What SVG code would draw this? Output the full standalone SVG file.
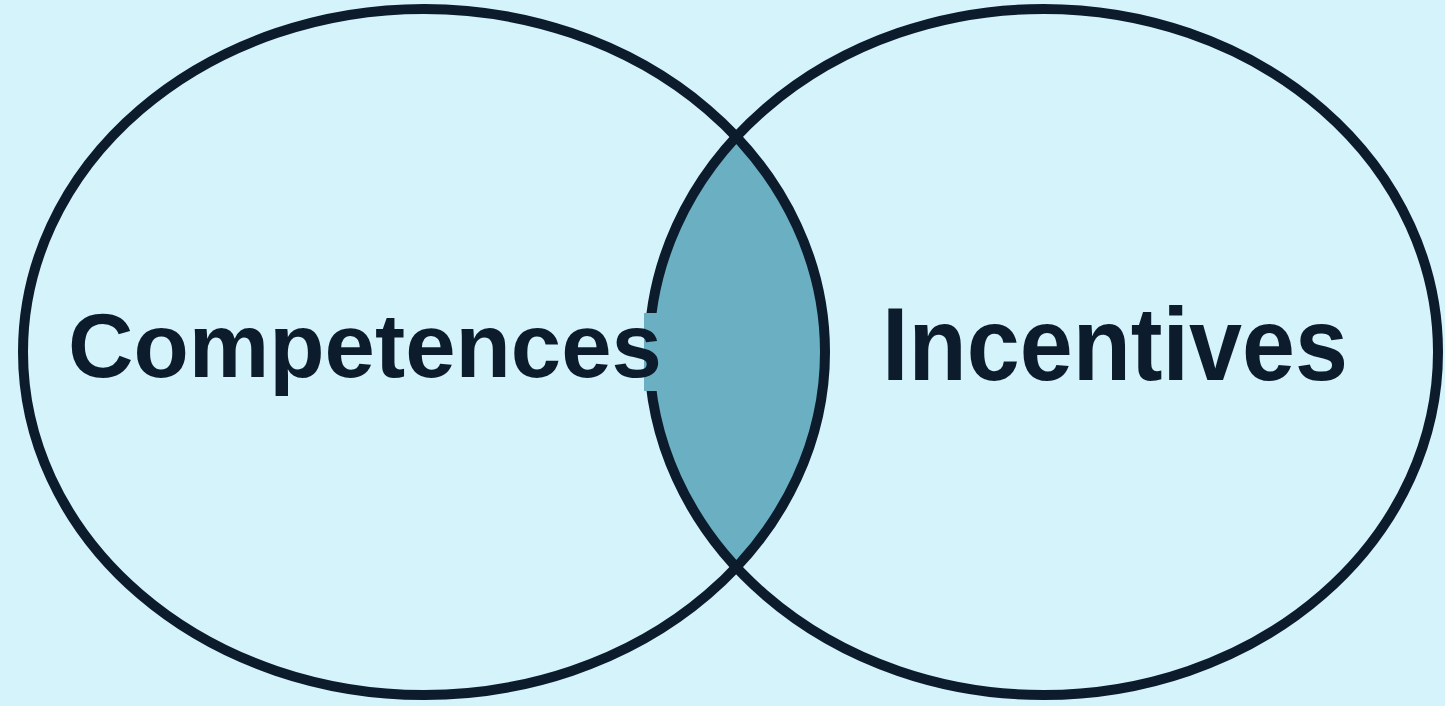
<svg xmlns="http://www.w3.org/2000/svg" width="1445" height="706" viewBox="0 0 1445 706">
  <style>
    .ring { fill: none; stroke: #0c1c2c; stroke-width: 10; }
    .label { font-family: "Liberation Sans", Arial, sans-serif; font-weight: bold; fill: #0c1c2c; }
  </style>
  <defs>
    <clipPath id="clipLeft">
      <ellipse cx="424" cy="352" rx="401" ry="343"/>
    </clipPath>
  </defs>
  <rect x="0" y="0" width="1445" height="706" fill="#d4f3fa"/>
  <g id="overlap">
    <ellipse cx="1043.5" cy="352" rx="394.5" ry="343" fill="#6aafc2" clip-path="url(#clipLeft)"/>
  </g>
  <g id="competences">
    <ellipse class="ring" cx="424" cy="352" rx="401" ry="343"/>
  </g>
  <g id="incentives">
    <ellipse class="ring" cx="1043.5" cy="352" rx="394.5" ry="343"/>
  </g>
  <rect x="644" y="313" width="18" height="78" fill="#6aafc2"/>
  <text class="label" x="68" y="377" font-size="91" textLength="594" lengthAdjust="spacingAndGlyphs">Competences</text>
  <text class="label" x="882" y="380" font-size="104" textLength="466" lengthAdjust="spacingAndGlyphs">Incentives</text>
</svg>
